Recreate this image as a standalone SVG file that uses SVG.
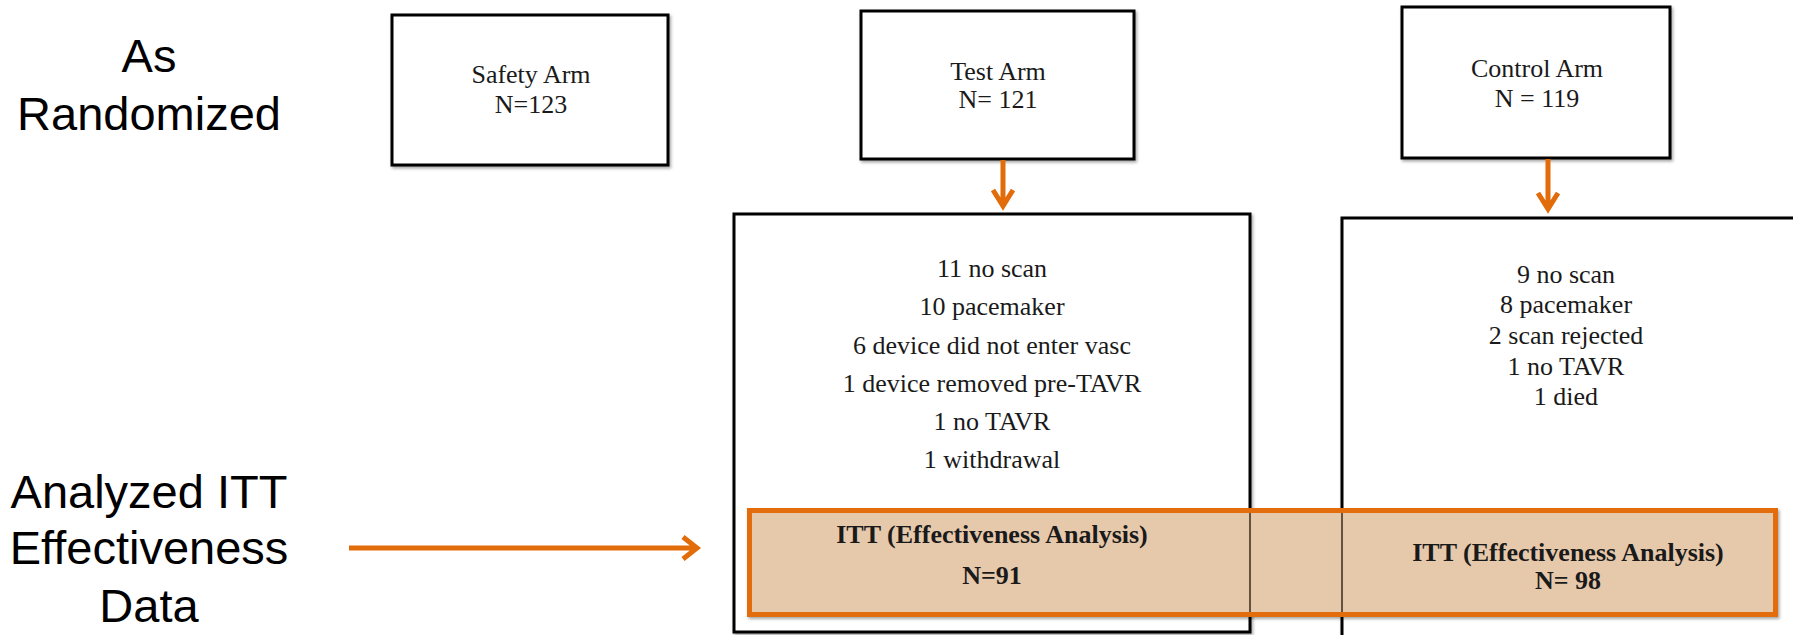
<svg xmlns="http://www.w3.org/2000/svg" width="1793" height="635" viewBox="0 0 1793 635">
<defs>
<filter id="sh" x="-5%" y="-5%" width="110%" height="120%">
<feDropShadow dx="1.5" dy="2" stdDeviation="1.5" flood-color="#000" flood-opacity="0.35"/>
</filter>
<style>
.lbl{font-family:"Liberation Sans",Arial,sans-serif;font-size:47px;fill:#000;text-anchor:middle}
.box{fill:#fff;stroke:#000;stroke-width:3}
.t{font-family:"Liberation Serif","Times New Roman",serif;font-size:26px;fill:#1a1a1a;text-anchor:middle}
.b{font-weight:bold}
.ob{fill:#E6C8AB;stroke:#E36C0A;stroke-width:5}
.arr{fill:none;stroke:#E36C0A;stroke-width:5;stroke-linecap:butt;stroke-linejoin:miter}
</style>
</defs>
<rect width="1793" height="635" fill="#fff"/>
<g id="label-randomized">
<text class="lbl" x="149" y="72">As</text>
<text class="lbl" x="149" y="130">Randomized</text>
</g>
<g id="label-analyzed">
<text class="lbl" x="149" y="508">Analyzed ITT</text>
<text class="lbl" x="149" y="564">Effectiveness</text>
<text class="lbl" x="149" y="622">Data</text>
</g>
<g id="safety-arm">
<rect class="box" x="392" y="15" width="276" height="150" filter="url(#sh)"/>
<text class="t" x="531" y="83">Safety Arm</text>
<text class="t" x="531" y="113">N=123</text>
</g>
<g id="test-arm">
<rect class="box" x="861" y="11" width="273" height="148" filter="url(#sh)"/>
<text class="t" x="998" y="80">Test Arm</text>
<text class="t" x="998" y="108">N= 121</text>
</g>
<g id="control-arm">
<rect class="box" x="1402" y="7" width="268" height="151" filter="url(#sh)"/>
<text class="t" x="1537" y="77">Control Arm</text>
<text class="t" x="1537" y="107">N = 119</text>
</g>
<g id="test-exclusions">
<rect class="box" x="734" y="214" width="516" height="418" filter="url(#sh)"/>
<text class="t" x="992" y="277">11 no scan</text>
<text class="t" x="992" y="315">10 pacemaker</text>
<text class="t" x="992" y="354">6 device did not enter vasc</text>
<text class="t" x="992" y="392">1 device removed pre-TAVR</text>
<text class="t" x="992" y="430">1 no TAVR</text>
<text class="t" x="992" y="468">1 withdrawal</text>
</g>
<g id="control-exclusions">
<rect class="box" x="1342" y="218" width="470" height="440" filter="url(#sh)"/>
<text class="t" x="1566" y="283">9 no scan</text>
<text class="t" x="1566" y="313">8 pacemaker</text>
<text class="t" x="1566" y="344">2 scan rejected</text>
<text class="t" x="1566" y="375">1 no TAVR</text>
<text class="t" x="1566" y="405">1 died</text>
</g>
<g id="itt-band">
<rect class="ob" x="749.5" y="510.5" width="1026" height="104" filter="url(#sh)"/>
<line x1="1250" y1="513" x2="1250" y2="612" stroke="#3a2a1a" stroke-width="1.5"/>
<line x1="1342" y1="513" x2="1342" y2="612" stroke="#3a2a1a" stroke-width="1.5"/>
</g>
<g id="itt-test">
<text class="t b" x="992" y="543">ITT (Effectiveness Analysis)</text>
<text class="t b" x="992" y="584">N=91</text>
</g>
<g id="itt-control">
<text class="t b" x="1568" y="561">ITT (Effectiveness Analysis)</text>
<text class="t b" x="1568" y="589">N= 98</text>
</g>
<g id="connectors">
<path class="arr" d="M1003 160 V206 M993 190 L1003 206 L1013 190"/>
<path class="arr" d="M1548 159 V209 M1538 193 L1548 209 L1558 193"/>
<path class="arr" d="M349 548 H697 M683 537 L697 548 L683 559"/>
</g>
</svg>
